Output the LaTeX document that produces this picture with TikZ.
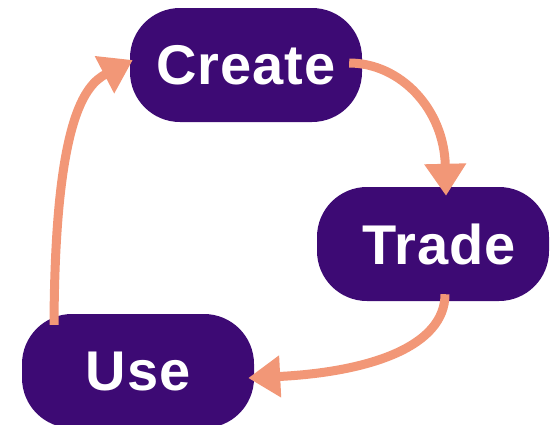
\documentclass[tikz,border=0pt]{standalone}
\usepackage{fontspec}
\setmainfont{Liberation Sans}[LetterSpace=2]
\usetikzlibrary{arrows.meta,calc}
\definecolor{boxpurple}{HTML}{3D0A74}
\definecolor{arrowsalmon}{HTML}{F29777}
\tikzset{
  stagebox/.style={fill=boxpurple, draw=none, rounded corners=50pt,
    minimum width=232pt, minimum height=114pt, inner sep=0pt,
    text=white, font=\fontsize{56}{64}\selectfont\bfseries},
  flowarrow/.style={draw=arrowsalmon, line width=9pt, line cap=butt,
    -{Triangle[length=32pt,width=40pt]}, fill=none}
}
\begin{document}
\begin{tikzpicture}[x=1pt,y=-1pt]
\useasboundingbox (0,0) rectangle (556,424);
\node[stagebox] (C) at (246,65) {Create};
\node[stagebox] (T) at (433,244) {\hspace*{12pt}Trade};
\node[stagebox] (U) at (138,371) {Use};
\draw[flowarrow] ($(C.east)+(-13,-2)$) .. controls +(51,0) and +(-2,-87) .. ($(T.north)+(13,9)$);
\draw[flowarrow] ($(T.south)+(12,-7)$) .. controls +(0,52) and +(122,-6) .. ($(U.east)+(-6,7)$);
\draw[flowarrow] ($(U.north)+(-84,11)$) .. controls +(1,-205) and +(-48,25) .. ($(C.west)+(3,-5)$);
\end{tikzpicture}
\end{document}
